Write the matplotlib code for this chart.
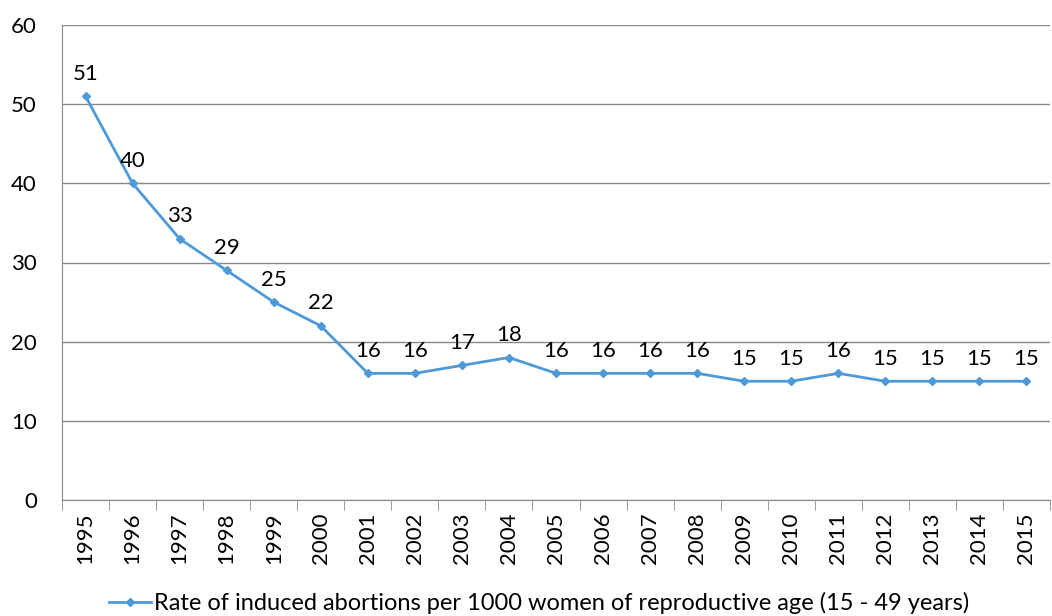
import matplotlib
matplotlib.use("Agg")
import matplotlib.pyplot as plt
import numpy as np

years = [str(y) for y in range(1995, 2016)]
rate = [51, 40, 33, 29, 25, 22, 16, 16, 17, 18, 16, 16, 16, 16, 15, 15, 16, 15, 15, 15, 15]
label = 'Rate of induced abortions per 1000 women of reproductive age (15 - 49 years)'

plt.rcParams['font.family'] = ['Lato', 'DejaVu Sans']
blue = '#4E9AD8'
grey = '#888888'
fs = 16

fig = plt.figure(figsize=(10.52, 6.16), dpi=100)
ax = fig.add_axes([62 / 1052, 116 / 616, 988 / 1052, 475 / 616])

x = np.arange(len(years))
line, = ax.plot(x, rate, color=blue, lw=2, marker='D', ms=4.5, label=label)

for xi, v in zip(x, rate):
    ax.annotate(str(v), (xi, v), xytext=(0, 9), textcoords='offset points',
                ha='center', va='bottom', fontsize=fs, color='black')

ax.set_ylim(0, 60)
ax.set_yticks(range(0, 61, 10))
ax.set_xlim(-0.5, len(years) - 0.5)
ax.set_xticks(x)
ax.set_xticklabels(years, rotation=90, fontsize=fs)
ax.set_xticks(np.arange(-0.5, len(years), 1), minor=True)
ax.tick_params(axis='x', which='major', length=0, pad=9)
ax.tick_params(axis='x', which='minor', length=7, color=grey)
ax.tick_params(axis='y', length=0, labelsize=fs, pad=18)

ax.grid(axis='y', color=grey, lw=1)
ax.set_axisbelow(True)
for s in ['top', 'right']:
    ax.spines[s].set_visible(False)
for s in ['left', 'bottom']:
    ax.spines[s].set_color(grey)

fig.legend(handles=[line], loc='center', bbox_to_anchor=(539 / 1052, 1 - 603 / 616),
           frameon=False, fontsize=17, handlelength=1.8, handletextpad=0.1,
           borderaxespad=0)

fig.savefig('out.png', dpi=100)
